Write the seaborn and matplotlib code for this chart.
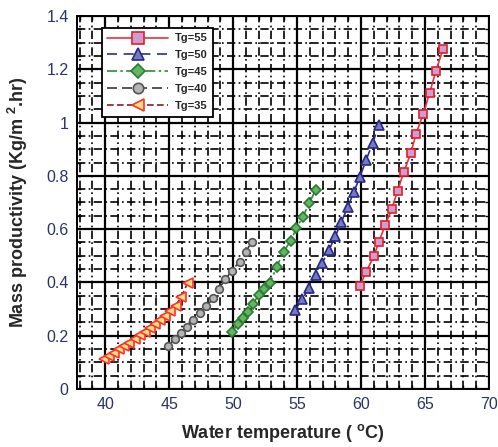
import numpy as np
import pandas as pd
import matplotlib
matplotlib.use("Agg")
import matplotlib.pyplot as plt
from matplotlib.ticker import MultipleLocator, FuncFormatter
from matplotlib.lines import Line2D
import seaborn as sns

# Water temperature (deg C) and mass productivity (kg/m2.hr) for each glass temperature Tg
t_tg55 = [59.9, 60.4, 61.0, 61.4, 61.9, 62.4, 62.85, 63.35, 63.9, 64.3, 64.85, 65.35, 65.85, 66.4]
m_tg55 = [0.387, 0.440, 0.499, 0.553, 0.617, 0.677, 0.743, 0.816, 0.887, 0.958, 1.032, 1.110, 1.194, 1.275]

t_tg50 = [54.85, 55.4, 55.95, 56.45, 56.95, 57.5, 58.0, 58.45, 58.95, 59.45, 59.9, 60.4, 60.9, 61.4]
m_tg50 = [0.297, 0.337, 0.380, 0.428, 0.472, 0.522, 0.574, 0.626, 0.682, 0.741, 0.795, 0.860, 0.922, 0.991]

t_tg45 = [49.95, 50.35, 50.75, 51.15, 51.55, 52.0, 52.4, 52.9, 53.4, 53.95, 54.5, 54.95, 55.45, 55.95, 56.45]
m_tg45 = [0.215, 0.244, 0.265, 0.290, 0.319, 0.353, 0.375, 0.399, 0.458, 0.515, 0.557, 0.603, 0.647, 0.697, 0.748]

t_tg40 = [44.9, 45.45, 45.9, 46.4, 46.9, 47.4, 47.9, 48.45, 48.9, 49.4, 49.9, 50.5, 51.0, 51.45]
m_tg40 = [0.160, 0.188, 0.211, 0.234, 0.259, 0.284, 0.310, 0.340, 0.377, 0.412, 0.444, 0.478, 0.515, 0.553]

t_tg35 = [39.9, 40.3, 40.7, 41.1, 41.5, 41.9, 42.3, 42.7, 43.1, 43.5, 43.9, 44.3, 44.7, 45.1, 45.5, 45.95, 46.45]
m_tg35 = [0.111, 0.124, 0.136, 0.149, 0.161, 0.174, 0.188, 0.201, 0.215, 0.229, 0.244, 0.259, 0.275, 0.293, 0.313, 0.345, 0.399]

series_labels = ["Tg=55", "Tg=50", "Tg=45", "Tg=40", "Tg=35"]

x_ticks = [40, 45, 50, 55, 60, 65, 70]
y_ticks = [0, 0.2, 0.4, 0.6, 0.8, 1.0, 1.2, 1.4]

sns.set_theme(style="white")
plt.rcParams["font.family"] = ["Liberation Sans", "DejaVu Sans"]
plt.rcParams["mathtext.fontset"] = "custom"
plt.rcParams["mathtext.rm"] = "Liberation Sans:bold"
plt.rcParams["mathtext.bf"] = "Liberation Sans:bold"
plt.rcParams["mathtext.it"] = "Liberation Sans:bold"

frames = []
for lab, xs, ys in [(series_labels[0], t_tg55, m_tg55), (series_labels[1], t_tg50, m_tg50),
                    (series_labels[2], t_tg45, m_tg45), (series_labels[3], t_tg40, m_tg40),
                    (series_labels[4], t_tg35, m_tg35)]:
    frames.append(pd.DataFrame({"temp": xs, "prod": ys, "series": lab}))
df = pd.concat(frames, ignore_index=True)

styles = {
    "Tg=55": dict(color="#e8323c", marker="s", mfc="#cf9ccf", mec="#e21e2a", ls="-", ms=6),
    "Tg=50": dict(color="#2a2f8f", marker="^", mfc="#7678c0", mec="#252a86", ls=(0, (6, 4)), ms=7),
    "Tg=45": dict(color="#2f8a3a", marker="D", mfc="#5fb860", mec="#2d7a34", ls=(0, (6, 2, 1.5, 2)), ms=5),
    "Tg=40": dict(color="#3a3a3a", marker="o", mfc="#b4b4b4", mec="#555555", ls=(0, (6, 3)), ms=5.5),
    "Tg=35": dict(color="#8a1f1f", marker="<", mfc="#ffe07a", mec="#ff3030", ls=(0, (4, 2)), ms=7),
}

fig = plt.figure(figsize=(4.98, 4.47), dpi=100)
ax = fig.add_axes([0.1546, 0.1298, 0.8274, 0.8344])

handles = []
for lab in series_labels:
    st = styles[lab]
    sub = df[df["series"] == lab]
    sns.lineplot(data=sub, x="temp", y="prod", ax=ax, color=st["color"], marker=st["marker"],
                 markersize=st["ms"], markerfacecolor=st["mfc"], markeredgecolor=st["mec"],
                 markeredgewidth=1.2, linestyle=st["ls"], linewidth=1.2, zorder=5, legend=False)
    handles.append(Line2D([], [], color=st["color"], marker=st["marker"], markersize=st["ms"] + 2,
                          markerfacecolor=st["mfc"], markeredgecolor=st["mec"], markeredgewidth=1.2,
                          linestyle=st["ls"], linewidth=1.2, label=lab))

ax.set_xlim(37.8, 70)
ax.set_ylim(0, 1.4)
ax.set_xticks(x_ticks)
ax.set_yticks(y_ticks)
ax.xaxis.set_minor_locator(MultipleLocator(1))
ax.yaxis.set_minor_locator(MultipleLocator(0.05))
ax.yaxis.set_major_formatter(FuncFormatter(lambda v, p: f"{v:g}"))

ax.grid(which="major", color="black", linewidth=1.6, linestyle="-", zorder=1)
ax.grid(which="minor", color="black", linewidth=1.2, linestyle=(0, (5, 2, 1, 2)), zorder=1)
ax.set_axisbelow(True)

for sp in ax.spines.values():
    sp.set_visible(True)
    sp.set_color("black")
    sp.set_linewidth(1.4)

ax.tick_params(which="both", direction="in", top=True, right=True, bottom=True, left=True,
               color="black", labelsize=11.5, labelcolor="#2a3566", pad=6)
ax.tick_params(which="major", length=5, width=1.2)
ax.tick_params(which="minor", length=3, width=1.0)

ax.set_xlabel(r"Water temperature ( $^{o}$C)", fontsize=13, fontweight="bold", labelpad=7)
ax.set_ylabel(r"Mass productivity (Kg/m $^{2}$.hr)", fontsize=13, fontweight="bold", labelpad=12)

leg = ax.legend(handles=handles, loc="upper left", bbox_to_anchor=(0.046, 0.983),
                handlelength=5.5, handletextpad=0.6, labelspacing=0.62, borderpad=0.5,
                fancybox=False, framealpha=1, edgecolor="black",
                prop={"size": 8, "weight": "bold"})
leg.get_frame().set_linewidth(1.3)
leg.set_zorder(10)

fig.savefig("out.png", dpi=100)
